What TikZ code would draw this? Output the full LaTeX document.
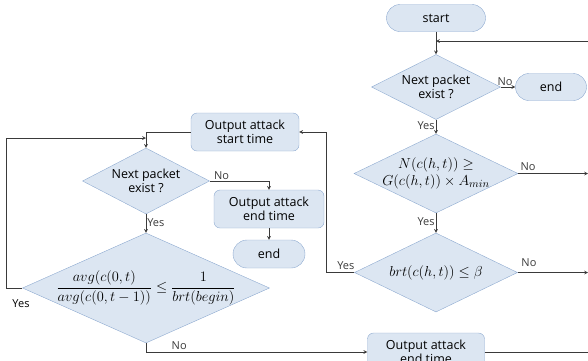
\documentclass[tikz,border=0pt]{standalone}
\usepackage{amsmath}
\usepackage{fontspec}
\setmainfont{Open Sans}
\usepackage{tikz}
\usetikzlibrary{arrows,positioning,shapes.geometric}
\definecolor{boxfill}{HTML}{DCE6F2}
\definecolor{boxline}{HTML}{8EAAD0}
\definecolor{wire}{HTML}{3A3A3A}

\begin{document}
\begin{tikzpicture}[
x=1pt, y=-1pt,
font=\fontsize{12.5}{14.5}\selectfont,
terminal/.style={draw=boxline,fill=boxfill,rounded corners=13.5pt,minimum height=27pt,inner sep=0pt},
process/.style={draw=boxline,fill=boxfill,rounded corners=6pt,minimum height=38pt,inner sep=0pt,align=center},
decision/.style={diamond,draw=boxline,fill=boxfill,inner sep=0pt},
dtext/.style={align=center,inner sep=0pt},
mtext/.style={align=center,inner sep=0pt,font=\fontsize{15.5}{18}\selectfont},
flow/.style={->,>=stealth,wire,line width=0.7pt},
wireline/.style={wire,line width=0.7pt},
yesno/.style={font=\fontsize{11}{12}\selectfont,inner sep=1pt}]
    \useasboundingbox (0,0) rectangle (588,360);
    \clip (0,0) rectangle (588,360);

    % right column
    \node[terminal, minimum width=99pt] (start) at (436,18) {start};
    \node[decision, minimum width=129pt, minimum height=65pt,
        label={[dtext]center:{Next packet\\exist ?}}] (next1) at (436,87) {};
    \node[terminal, minimum width=71pt] (end1) at (551,87) {end};
    \node[decision, minimum width=164pt, minimum height=79pt,
        label={[mtext]center:{$N(c(h,t))\geq$\\[-1pt]$G(c(h,t))\times A_{min}$}}] (cnt) at (436,173.5) {};
    \node[decision, minimum width=163pt, minimum height=79pt,
        label={[mtext]center:{$brt(c(h,t))\leq\beta$}}] (brt) at (436,272.5) {};

    % left column
    \node[process, minimum width=108pt] (ostart) at (245,132) {Output attack\\start time};
    \node[decision, minimum width=127pt, minimum height=66pt,
        label={[dtext]center:{Next packet\\exist ?}}] (next2) at (146,181) {};
    \node[process, minimum width=110pt] (oend) at (269,209) {Output attack\\end time};
    \node[terminal, minimum width=72pt, minimum height=28pt, rounded corners=14pt] (end2) at (269,254) {end};
    \node[decision, minimum width=247pt, minimum height=110pt,
        label={[mtext]center:{$\displaystyle\frac{avg(c(0,t)}{avg(c(0,t-1))}\leq\frac{1}{brt(begin)}$}}] (ratio) at (146,288) {};
    \node[process, minimum width=117pt] (oend2) at (426,352) {Output attack\\end time};

    % free ends on the right border
    \coordinate (loopin) at (588,41);
    \coordinate (cntout) at (588,173.5);
    \coordinate (brtout) at (588,272.5);
    \coordinate (endout) at (588,352);
    \coordinate (merge) at (146,138);

    % right column flow
    \draw[flow] (start) -- (next1);
    \draw[flow] (loopin) -- (start.south |- loopin);
    \draw[flow] (next1) -- node[yesno, above, pos=0.3] {No} (end1);
    \draw[flow] (next1) -- node[yesno, left, pos=0.45] {Yes} (cnt);
    \draw[flow] (cnt) -- node[yesno, above, pos=0.14, yshift=2pt] {No} (cntout);
    \draw[flow] (cnt) -- node[yesno, left, pos=0.45] {Yes} (brt);
    \draw[flow] (brt) -- node[yesno, above, pos=0.16, yshift=5pt] {No} (brtout);
    \draw[flow] (brt.west) -- node[yesno, above, pos=0.3, yshift=2pt] {Yes} (326,272.5) |- (ostart.east);

    % left column flow
    \draw[flow] (ostart.west) -| (next2.north);
    \draw[flow] (ratio.west) -- (6,288) |- (merge);
    \node[yesno] (yesl) at (21,304) {Yes};
    \draw[flow] (next2.east) -- node[yesno, above, pos=0.2] {No} (oend.north |- next2.east) -- (oend.north);
    \draw[flow] (oend) -- (end2);
    \draw[flow] (next2) -- node[yesno, right, pos=0.45] {Yes} (ratio);
    \draw[flow] (ratio.south) -- (146,352) -- node[yesno, above, pos=0.15, yshift=1pt] {No} (oend2.west);
    \draw[wireline] (oend2.east) -- (endout);
\end{tikzpicture}
\end{document}
